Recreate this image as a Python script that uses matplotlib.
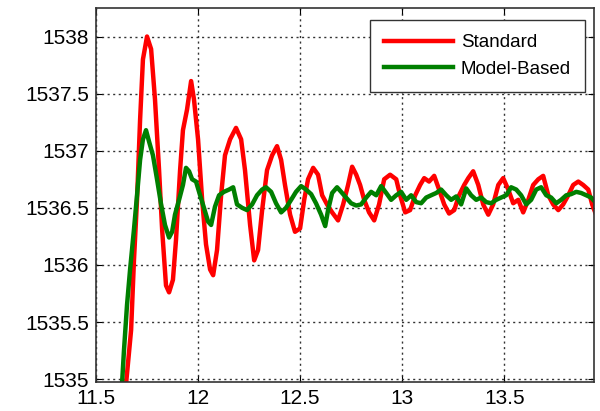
import matplotlib.pyplot as plt
import numpy as np

plt.rcParams['font.family'] = ['Liberation Sans', 'DejaVu Sans']

# Standard response (red)
std_t = [11.640, 11.672, 11.686, 11.701, 11.716, 11.730, 11.750, 11.770, 11.789, 11.809,
         11.824, 11.843, 11.858, 11.877, 11.892, 11.912, 11.926, 11.946, 11.966, 11.980,
         12.000, 12.020, 12.039, 12.059, 12.074, 12.093, 12.113, 12.132, 12.157, 12.186,
         12.211, 12.230, 12.255, 12.275, 12.294, 12.314, 12.338, 12.363, 12.387, 12.407,
         12.426, 12.451, 12.475, 12.500, 12.520, 12.539, 12.564, 12.588, 12.608, 12.632,
         12.657, 12.686, 12.711, 12.735, 12.755, 12.775, 12.794, 12.814, 12.838, 12.863,
         12.887, 12.912, 12.941, 12.971, 12.990, 13.015, 13.039, 13.064, 13.088, 13.108,
         13.132, 13.157, 13.181, 13.206, 13.230, 13.255, 13.279, 13.304, 13.324, 13.348,
         13.373, 13.397, 13.422, 13.446, 13.471, 13.495, 13.520, 13.544, 13.569, 13.593,
         13.618, 13.642, 13.667, 13.691, 13.716, 13.740, 13.765, 13.789, 13.814, 13.838,
         13.863, 13.887, 13.912, 13.931, 13.946]
std_v = [1534.82, 1535.43, 1536.04, 1536.57, 1537.27, 1537.80, 1538.00, 1537.89, 1537.45, 1536.83,
         1536.31, 1535.82, 1535.76, 1535.87, 1536.22, 1536.83, 1537.18, 1537.36, 1537.61, 1537.45,
         1537.10, 1536.57, 1536.18, 1535.96, 1535.91, 1536.13, 1536.61, 1536.96, 1537.10, 1537.20,
         1537.10, 1536.83, 1536.35, 1536.04, 1536.13, 1536.48, 1536.83, 1536.96, 1537.04, 1536.92,
         1536.70, 1536.44, 1536.29, 1536.32, 1536.57, 1536.75, 1536.85, 1536.79, 1536.61, 1536.53,
         1536.46, 1536.39, 1536.53, 1536.70, 1536.86, 1536.79, 1536.70, 1536.57, 1536.46, 1536.39,
         1536.53, 1536.75, 1536.79, 1536.75, 1536.61, 1536.46, 1536.48, 1536.61, 1536.70, 1536.76,
         1536.73, 1536.78, 1536.66, 1536.53, 1536.45, 1536.48, 1536.61, 1536.70, 1536.76, 1536.82,
         1536.70, 1536.53, 1536.44, 1536.53, 1536.70, 1536.76, 1536.66, 1536.54, 1536.57, 1536.46,
         1536.57, 1536.70, 1536.75, 1536.78, 1536.61, 1536.53, 1536.48, 1536.53, 1536.61, 1536.70,
         1536.73, 1536.70, 1536.66, 1536.53, 1536.46]

# Model-based response (green)
mb_t = [11.623, 11.637, 11.652, 11.667, 11.686, 11.701, 11.716, 11.730, 11.745, 11.760,
        11.779, 11.799, 11.819, 11.838, 11.858, 11.873, 11.887, 11.907, 11.926, 11.941,
        11.956, 11.971, 11.990, 12.010, 12.029, 12.049, 12.064, 12.083, 12.103, 12.127,
        12.152, 12.172, 12.191, 12.216, 12.240, 12.265, 12.289, 12.314, 12.333, 12.358,
        12.382, 12.407, 12.431, 12.456, 12.480, 12.505, 12.529, 12.554, 12.578, 12.603,
        12.623, 12.637, 12.657, 12.681, 12.701, 12.725, 12.750, 12.775, 12.799, 12.824,
        12.848, 12.873, 12.897, 12.922, 12.946, 12.971, 12.995, 13.020, 13.044, 13.069,
        13.093, 13.118, 13.142, 13.167, 13.191, 13.216, 13.240, 13.265, 13.289, 13.314,
        13.338, 13.363, 13.387, 13.412, 13.436, 13.461, 13.485, 13.510, 13.534, 13.559,
        13.583, 13.608, 13.632, 13.657, 13.681, 13.706, 13.730, 13.755, 13.779, 13.804,
        13.828, 13.853, 13.877, 13.902, 13.926, 13.946]
mb_v = [1534.82, 1535.25, 1535.65, 1535.96, 1536.31, 1536.61, 1536.92, 1537.10, 1537.18, 1537.08,
        1536.96, 1536.75, 1536.53, 1536.35, 1536.24, 1536.29, 1536.44, 1536.57, 1536.70, 1536.85,
        1536.82, 1536.75, 1536.73, 1536.61, 1536.50, 1536.38, 1536.35, 1536.51, 1536.61, 1536.64,
        1536.66, 1536.68, 1536.53, 1536.50, 1536.48, 1536.53, 1536.61, 1536.66, 1536.68, 1536.64,
        1536.54, 1536.46, 1536.50, 1536.57, 1536.64, 1536.69, 1536.66, 1536.62, 1536.54, 1536.44,
        1536.34, 1536.48, 1536.63, 1536.68, 1536.64, 1536.59, 1536.54, 1536.52, 1536.53, 1536.59,
        1536.64, 1536.61, 1536.69, 1536.63, 1536.57, 1536.61, 1536.64, 1536.57, 1536.61, 1536.55,
        1536.54, 1536.59, 1536.61, 1536.63, 1536.66, 1536.61, 1536.57, 1536.60, 1536.53, 1536.67,
        1536.61, 1536.57, 1536.59, 1536.55, 1536.54, 1536.57, 1536.59, 1536.61, 1536.68, 1536.66,
        1536.61, 1536.53, 1536.57, 1536.66, 1536.68, 1536.61, 1536.59, 1536.54, 1536.57, 1536.61,
        1536.62, 1536.64, 1536.63, 1536.61, 1536.59, 1536.55]

x_ticks = [11.5, 12, 12.5, 13, 13.5]
x_labels = ['11.5', '12', '12.5', '13', '13.5']
y_ticks = [1535, 1535.5, 1536, 1536.5, 1537, 1537.5, 1538]
y_labels = ['1535', '1535.5', '1536', '1536.5', '1537', '1537.5', '1538']

fig = plt.figure(figsize=(6.0, 4.11), dpi=100)
ax = fig.add_axes([0.16, 0.0706, 0.83, 0.91])

ax.plot(std_t, std_v, color='#ff0000', linewidth=3.2, label='Standard')
ax.plot(mb_t, mb_v, color='#007f00', linewidth=3.2, label='Model-Based')

ax.set_xlim(11.5, 13.94)
ax.set_ylim(1534.975, 1538.25)
ax.set_xticks(x_ticks)
ax.set_xticklabels(x_labels)
ax.set_yticks(y_ticks)
ax.set_yticklabels(y_labels)
ax.tick_params(direction='in', top=True, right=True, labelsize=15, length=4, pad=5)

ax.grid(True, color='#333333', linestyle=(0, (1.5, 2.5)), linewidth=1.0)
for s in ax.spines.values():
    s.set_linewidth(1.2)
    s.set_color('#333333')

leg = ax.legend(loc='upper right', bbox_to_anchor=(0.982, 0.968), borderaxespad=0,
                fontsize=13.5, handlelength=3.7, handletextpad=0.4, borderpad=0.75,
                fancybox=False, framealpha=1, edgecolor='#333333')
leg.get_frame().set_linewidth(1.0)

plt.savefig('out.png')
